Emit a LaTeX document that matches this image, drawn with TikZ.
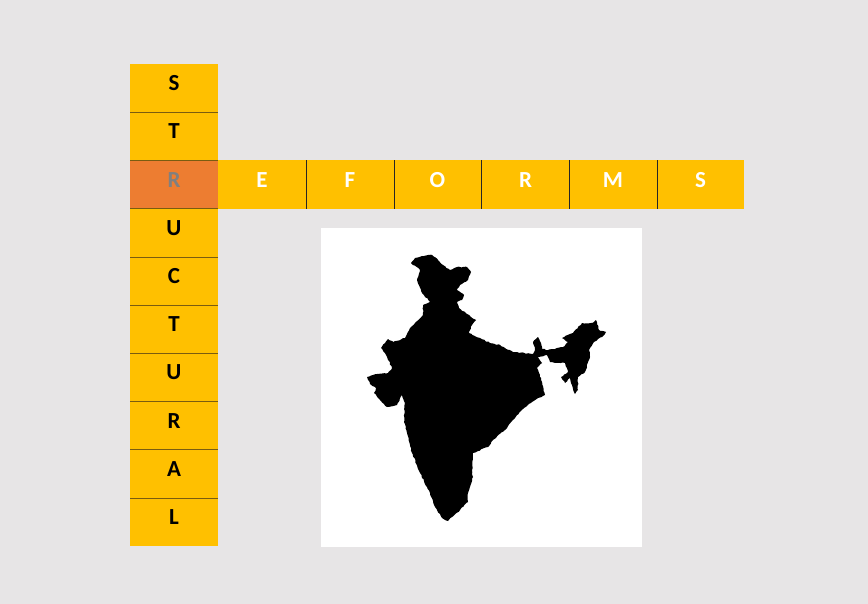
\documentclass[tikz,border=0pt]{standalone}
\usepackage{fontspec}
\setmainfont{Carlito}
\usetikzlibrary{decorations.pathmorphing}
\definecolor{bgc}{HTML}{E7E5E6}
\definecolor{amber}{HTML}{FFC000}
\definecolor{orangec}{HTML}{ED7D31}
\definecolor{sep}{HTML}{7A5C10}
\definecolor{rgray}{HTML}{808080}
\tikzset{
  cell/.style={fill=amber,minimum width=#1,minimum height=48.2pt,inner sep=0pt,outer sep=0pt,text height=14pt,text depth=8.4pt,font=\bfseries\fontsize{23}{23}\selectfont},
  cell/.default=88pt,
  sepline/.style={draw=sep,line width=1pt},
  vsep/.style={draw=black!85,line width=0.8pt}
}
\pgfmathsetseed{11}
\begin{document}
\begin{tikzpicture}[x=1pt,y=-1pt]
\useasboundingbox (0,0) rectangle (868,604);
\fill[bgc] (0,0) rectangle (868,604);
% column
\node[cell] (c1) at (174,88) {S};
\node[cell] (c2) at (174,136) {T};
\node[cell,fill=orangec,text=rgray] (c3) at (174,184.5) {R};
\node[cell] (c4) at (174,233) {U};
\node[cell] (c5) at (174,281) {C};
\node[cell] (c6) at (174,329) {T};
\node[cell] (c7) at (174,377) {U};
\node[cell] (c8) at (174,425.5) {R};
\node[cell] (c9) at (174,474) {A};
\node[cell] (c10) at (174,521.5) {L};
% row
\node[cell=87.8pt,text=white] (r1) at (262,184.5) {E};
\node[cell=87.8pt,text=white] (r2) at (350,184.5) {F};
\node[cell=87.8pt,text=white] (r3) at (437.5,184.5) {O};
\node[cell=87.8pt,text=white] (r4) at (525.5,184.5) {R};
\node[cell=87.8pt,text=white] (r5) at (613,184.5) {M};
\node[cell=87.8pt,text=white] (r6) at (700.5,184.5) {S};
% separators
\foreach \a/\b in {c1/c2,c2/c3,c3/c4,c4/c5,c5/c6,c6/c7,c7/c8,c8/c9,c9/c10}
  \draw[sepline] (\a.south west) -- (\a.south east);
\foreach \a in {r1,r2,r3,r4,r5}
  \draw[vsep] (\a.north east) -- (\a.south east);
% map panel
\fill[white] (321,228) rectangle (642,547);
\fill[black,line join=round,decorate,decoration={random steps,segment length=2.2pt,amplitude=0.55pt}]
 (411,263) -- (415,258) -- (422,256) -- (432,255) -- (438,260) -- (443,265) -- (450,270) -- (457,267) -- (467,267) -- (471,272) -- (468,280) -- (460,285) -- (457,290) -- (464,295) -- (462,300) -- (457,302) -- (459,308) -- (467,314) -- (476,320) -- (472,325) -- (469,333) -- (480,338) -- (490,343) -- (500,345) -- (513,352) -- (533,354) -- (535,350) -- (533,342) -- (538,337) -- (541,343) -- (542,349) -- (548,350) -- (563,347) -- (568,342) -- (562,338) -- (573,333) -- (582,323) -- (592,323) -- (596,320) -- (599,330) -- (606,332) -- (602,337) -- (594,342) -- (589,350) -- (590,357) -- (585,372) -- (578,377) -- (578,390) -- (575,394) -- (572,385) -- (570,378) -- (565,383) -- (561,377) -- (568,372) -- (565,363) -- (550,362) -- (547,355) -- (538,357) -- (542,363) -- (537,368) -- (541,378) -- (545,395) -- (538,398) -- (528,405) -- (517,415) -- (507,428) -- (493,440) -- (488,447) -- (473,453) -- (472,470) -- (473,477) -- (468,493) -- (468,502) -- (460,510) -- (448,521) -- (442,518) -- (435,507) -- (430,493) -- (420,473) -- (412,453) -- (407,433) -- (404,422) -- (405,403) -- (402,395) -- (397,405) -- (387,407) -- (380,400) -- (374,393) -- (376,388) -- (370,384) -- (367,377) -- (373,375) -- (388,373) -- (392,368) -- (387,357) -- (381,348) -- (388,339) -- (393,342) -- (405,338) -- (410,328) -- (423,315) -- (423,305) -- (430,302) -- (422,293) -- (417,280) -- (420,270) -- cycle;
\end{tikzpicture}
\end{document}
